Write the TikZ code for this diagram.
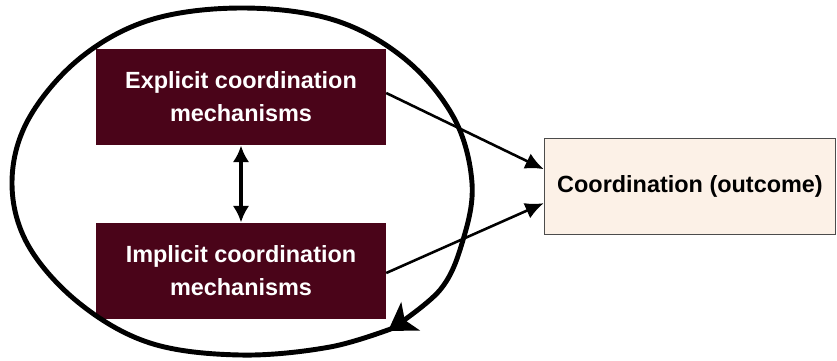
\documentclass[tikz,border=0pt]{standalone}
\usepackage{fontspec}
\setmainfont{Liberation Sans}
\usetikzlibrary{arrows.meta}
\definecolor{maroon}{HTML}{4A0419}
\definecolor{cream}{HTML}{FCF1E7}
\begin{document}
\begin{tikzpicture}[x=0.03cm, y=-0.03cm]
  \useasboundingbox (0,0) rectangle (837,360);
  \tikzset{
    mech/.style={fill=maroon, text=white, minimum width=8.7cm, minimum height=2.9cm,
      inner sep=0pt, align=center, font=\bfseries\fontsize{20}{28}\selectfont},
    result/.style={draw=black!70, line width=0.8pt, fill=cream, minimum width=8.75cm,
      minimum height=2.9cm, inner sep=0pt, font=\bfseries\fontsize{20}{28}\selectfont},
    link/.style={line width=2.2pt, -{Latex[length=5.5mm, width=5mm]}},
  }
  \node[mech] (explicit) at (241,97) {Explicit coordination\\mechanisms};
  \node[mech] (implicit) at (241,271) {Implicit coordination\\mechanisms};
  \node[result] (outcome) at (690,186.5) {Coordination (outcome)};
  % Draw the loop around both mechanisms
  \draw[line width=4.2pt, line cap=round, -{Stealth[length=8mm, width=10mm, inset=2mm]}]
    plot[smooth, tension=0.6] coordinates {(396,327) (330,347) (240,355) (150,343) (79,303)
      (28,245) (12,183) (28,120) (79,59) (150,20) (242,8) (334,20) (405,59) (454,118)
      (472,183) (463,240) (440,290) (388,331)};
  % Draw the relations
  \draw[line width=3pt, {Latex[length=5mm, width=5mm]}-{Latex[length=5mm, width=5mm]}]
    (explicit) -- (implicit);
  \draw[link] ([yshift=0.12cm]explicit.east) -- ([yshift=0.52cm]outcome.west);
  \draw[link] ([yshift=-0.06cm]implicit.east) -- ([yshift=-0.5cm]outcome.west);
\end{tikzpicture}
\end{document}
